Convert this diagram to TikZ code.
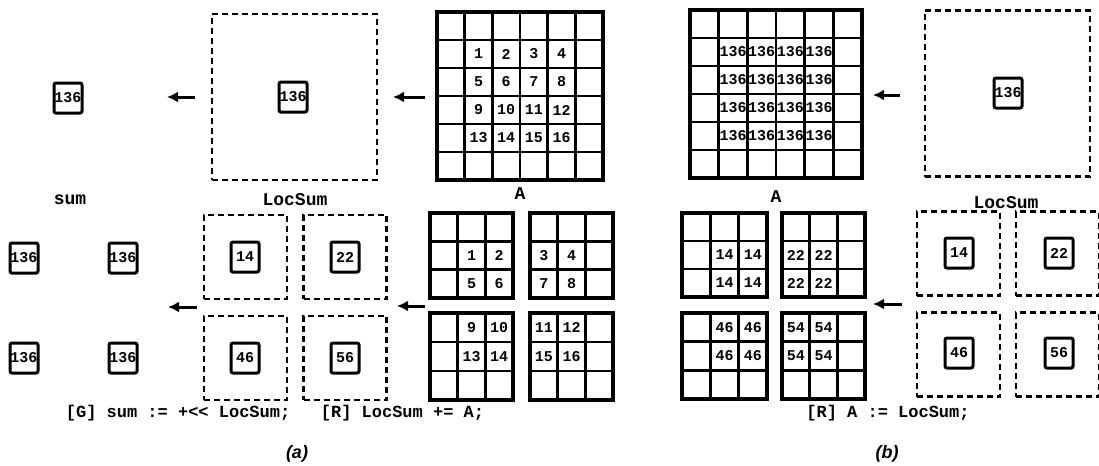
\documentclass[tikz,border=0pt]{standalone}
\usepackage{fontspec}
\setmonofont{Liberation Mono}
\setsansfont{Liberation Sans}
\usetikzlibrary{arrows.meta}
\newcommand\bgrid[5]{%
  \pgfmathsetmacro\gcw{(#3-#1)/#5}%
  \pgfmathsetmacro\gch{(#4-#2)/#5}%
  \pgfmathtruncatemacro\gnm{#5-1}%
  \foreach \k in {1,...,\gnm}{%
    \draw[gridthin] ({#1+\k*\gcw},#2) -- ({#1+\k*\gcw},#4);
    \draw[gridthin] (#1,{#2+\k*\gch}) -- (#3,{#2+\k*\gch});
  }%
  \draw[gridthick] (#1,#2) rectangle (#3,#4);}
% x0 y0 cw ch col row text name
\newcommand\gnum[8]{\node[num] (#8) at ({#1+(#5-0.5)*#3},{#2+(#6-0.5)*#4}) {#7};}
\begin{document}
\begin{tikzpicture}[x=0.5pt,y=-0.5pt,
  lbl/.style={font=\ttfamily\bfseries\fontsize{9}{10}\selectfont, inner sep=0pt},
  captxt/.style={font=\ttfamily\bfseries\fontsize{8.5}{10}\selectfont, inner sep=0pt},
  num/.style={font=\ttfamily\bfseries\fontsize{7.5}{8}\selectfont, inner sep=0pt},
  valbox/.style={draw, line width=1.5pt, rounded corners=1pt, minimum width=14pt, minimum height=15pt, inner sep=0pt, font=\ttfamily\bfseries\fontsize{7.5}{8}\selectfont},
  bigd/.style={draw, line width=1.2pt, dash pattern=on 3pt off 2pt, minimum width=82.5pt, minimum height=83pt, inner sep=0pt},
  smalld/.style={draw, line width=1.2pt, dash pattern=on 3pt off 2pt, minimum width=41.5pt, minimum height=42pt, inner sep=0pt},
  arr/.style={line width=1.5pt, -{Latex[length=5.5pt,width=5.5pt]}},
  gridthick/.style={line width=2pt},
  gridthin/.style={line width=1.3pt},
  panellbl/.style={font=\sffamily\bfseries\itshape\fontsize{9}{10}\selectfont, inner sep=0pt},
]
\useasboundingbox (0,0) rectangle (1099,466);

% ---------------- panel (a), top ----------------
\node[valbox] (sumA) at (68,98) {136};
\node[lbl] (sumAl) at (70,200) {sum};
\node[bigd] (locA) at (294.5,97) {};
\node[valbox] (locAv) at (293,97) {136};
\node[lbl] (locAl) at (295,200) {LocSum};
\bgrid{437}{12}{603}{180}{6}
\foreach \r in {2,...,5}{\foreach \c in {2,...,5}{%
  \pgfmathtruncatemacro\v{(\r-2)*4+\c-1}%
  \gnum{437}{12}{27.667}{28}{\c}{\r}{\v}{aA-\r-\c}}}
\node[lbl] (aAl) at (520,194) {A};
\coordinate (a1s) at (195,97); \coordinate (a1e) at (167,97);
\coordinate (a2s) at (425,97); \coordinate (a2e) at (393,97);
\draw[arr] (a1s) -- (a1e);
\draw[arr] (a2s) -- (a2e);

% ---------------- panel (a), bottom ----------------
\node[valbox] (s1) at (24,258) {136};
\node[valbox] (s2) at (123,258) {136};
\node[valbox] (s3) at (24,358) {136};
\node[valbox] (s4) at (123,358) {136};
\node[smalld] (la1) at (245.5,257) {};
\node[smalld] (la2) at (345,257) {};
\node[smalld] (la3) at (245.5,358) {};
\node[smalld] (la4) at (345,358) {};
\node[valbox] (la1v) at (245,257) {14};
\node[valbox] (la2v) at (345,257) {22};
\node[valbox] (la3v) at (245,358) {46};
\node[valbox] (la4v) at (345,358) {56};
\bgrid{430}{213}{513}{298}{3}
\bgrid{530}{213}{613}{298}{3}
\bgrid{430}{313}{513}{400}{3}
\bgrid{530}{313}{613}{400}{3}
\gnum{430}{213}{27.667}{28.333}{2}{2}{1}{g1a}
\gnum{430}{213}{27.667}{28.333}{3}{2}{2}{g1b}
\gnum{430}{213}{27.667}{28.333}{2}{3}{5}{g1c}
\gnum{430}{213}{27.667}{28.333}{3}{3}{6}{g1d}
\gnum{530}{213}{27.667}{28.333}{1}{2}{3}{g2a}
\gnum{530}{213}{27.667}{28.333}{2}{2}{4}{g2b}
\gnum{530}{213}{27.667}{28.333}{1}{3}{7}{g2c}
\gnum{530}{213}{27.667}{28.333}{2}{3}{8}{g2d}
\gnum{430}{313}{27.667}{29}{2}{1}{9}{g3a}
\gnum{430}{313}{27.667}{29}{3}{1}{10}{g3b}
\gnum{430}{313}{27.667}{29}{2}{2}{13}{g3c}
\gnum{430}{313}{27.667}{29}{3}{2}{14}{g3d}
\gnum{530}{313}{27.667}{29}{1}{1}{11}{g4a}
\gnum{530}{313}{27.667}{29}{2}{1}{12}{g4b}
\gnum{530}{313}{27.667}{29}{1}{2}{15}{g4c}
\gnum{530}{313}{27.667}{29}{2}{2}{16}{g4d}
\coordinate (a3s) at (197,307); \coordinate (a3e) at (168,307);
\coordinate (a4s) at (425,306); \coordinate (a4e) at (397,306);
\draw[arr] (a3s) -- (a3e);
\draw[arr] (a4s) -- (a4e);
\node[captxt] (capA) at (275,413) {[G] sum := +<< LocSum;\ \ \ [R] LocSum += A;};
\node[panellbl] (labA) at (297,454) {(a)};

% ---------------- panel (b), top ----------------
\bgrid{690}{10}{862}{178}{6}
\foreach \r in {2,...,5}{\foreach \c in {2,...,5}{%
  \gnum{690}{10}{28.667}{28}{\c}{\r}{136}{bA-\r-\c}}}
\node[lbl] (bAl) at (776,197) {A};
\node[bigd] (locB) at (1007.5,93.5) {};
\node[valbox] (locBv) at (1008,93) {136};
\node[lbl] (locBl) at (1006,203) {LocSum};
\coordinate (b1s) at (900,95); \coordinate (b1e) at (873,95);
\draw[arr] (b1s) -- (b1e);

% ---------------- panel (b), bottom ----------------
\bgrid{682}{213}{767}{297}{3}
\bgrid{782}{213}{865}{297}{3}
\bgrid{682}{313}{767}{399}{3}
\bgrid{782}{313}{865}{399}{3}
\gnum{682}{213}{28.333}{28}{2}{2}{14}{h1a}
\gnum{682}{213}{28.333}{28}{3}{2}{14}{h1b}
\gnum{682}{213}{28.333}{28}{2}{3}{14}{h1c}
\gnum{682}{213}{28.333}{28}{3}{3}{14}{h1d}
\gnum{782}{213}{27.667}{28}{1}{2}{22}{h2a}
\gnum{782}{213}{27.667}{28}{2}{2}{22}{h2b}
\gnum{782}{213}{27.667}{28}{1}{3}{22}{h2c}
\gnum{782}{213}{27.667}{28}{2}{3}{22}{h2d}
\gnum{682}{313}{28.333}{28.667}{2}{1}{46}{h3a}
\gnum{682}{313}{28.333}{28.667}{3}{1}{46}{h3b}
\gnum{682}{313}{28.333}{28.667}{2}{2}{46}{h3c}
\gnum{682}{313}{28.333}{28.667}{3}{2}{46}{h3d}
\gnum{782}{313}{27.667}{28.667}{1}{1}{54}{h4a}
\gnum{782}{313}{27.667}{28.667}{2}{1}{54}{h4b}
\gnum{782}{313}{27.667}{28.667}{1}{2}{54}{h4c}
\gnum{782}{313}{27.667}{28.667}{2}{2}{54}{h4d}
\node[smalld] (lb1) at (958.5,253.5) {};
\node[smalld] (lb2) at (1057.5,253.5) {};
\node[smalld] (lb3) at (958.5,354.5) {};
\node[smalld] (lb4) at (1057.5,354.5) {};
\node[valbox] (lb1v) at (959,253) {14};
\node[valbox] (lb2v) at (1059,253) {22};
\node[valbox] (lb3v) at (959,353) {46};
\node[valbox] (lb4v) at (1059,353) {56};
\coordinate (b2s) at (902,304); \coordinate (b2e) at (873,304);
\draw[arr] (b2s) -- (b2e);
\node[captxt] (capB) at (888,413) {[R] A := LocSum;};
\node[panellbl] (labB) at (887,454) {(b)};
\end{tikzpicture}
\end{document}
